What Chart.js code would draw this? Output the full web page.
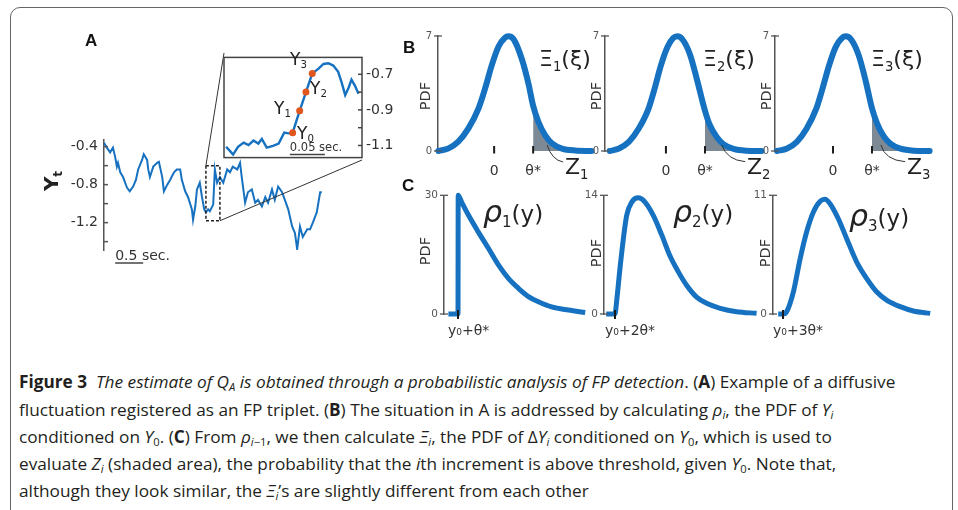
<!DOCTYPE html>
<html>
<head>
<meta charset="utf-8">
<script src="https://cdn.jsdelivr.net/npm/chart.js@4.4.1/dist/chart.umd.min.js"></script>
<style>
body { margin: 0; background: #fff; }
#fig { position: relative; width: 958px; height: 510px; overflow: hidden; font-family: "DejaVu Sans", sans-serif; color: #222; }
canvas { position: absolute; }
#frame { position: absolute; left: 10px; top: 7px; width: 941px; height: 530px; border: 1.3px solid #666; border-radius: 10px; }
.t { position: absolute; line-height: 1; white-space: nowrap; }
.rot { transform: translate(-50%, -50%) rotate(-90deg); }
.lab { font: bold 17px "Liberation Sans", Arial, sans-serif; color: #111; }
.pdf { font-size: 14.5px; color: #333; }
.mth { font-size: 22px; color: #222; }
.rho { font-size: 30px; color: #222; }
.yl { font-size: 17px; color: #222; }
.sb { font-size: 0.6em; position: relative; top: 0.35em; }
.cap { position: absolute; left: 19px; white-space: nowrap; line-height: 1; font-family: "Open Sans", "Noto Sans", sans-serif; font-size: 17px; color: #231f20; transform-origin: 0 0; }
.cs { font-size: 0.65em; position: relative; top: 0.3em; }
</style>
</head>
<body>
<div id="fig">
  <div id="frame"></div>
  <canvas id="cA"></canvas>
  <canvas id="cIn"></canvas>
  <canvas id="cB1"></canvas>
  <canvas id="cB2"></canvas>
  <canvas id="cB3"></canvas>
  <canvas id="cC1"></canvas>
  <canvas id="cC2"></canvas>
  <canvas id="cC3"></canvas>

  <div class="t lab" style="left:85px;top:30.5px">A</div>
  <div class="t lab" style="left:403px;top:37.5px">B</div>
  <div class="t lab" style="left:402px;top:175.5px">C</div>

  <div class="t rot" style="left:51px;top:181px;font:bold 20px 'DejaVu Sans',sans-serif">Y<span class="sb">t</span></div>

  <div class="t yl" style="left:290px;top:50.5px">Y<span class="sb">3</span></div>
  <div class="t yl" style="left:310px;top:79.5px">Y<span class="sb">2</span></div>
  <div class="t yl" style="left:274px;top:99.5px">Y<span class="sb">1</span></div>
  <div class="t yl" style="left:297px;top:124.5px">Y<span class="sb">0</span></div>

  <div class="t rot pdf" style="left:425px;top:96px">PDF</div>
  <div class="t rot pdf" style="left:596px;top:96px">PDF</div>
  <div class="t rot pdf" style="left:766px;top:96px">PDF</div>
  <div class="t rot pdf" style="left:425px;top:251px">PDF</div>
  <div class="t rot pdf" style="left:596px;top:253px">PDF</div>
  <div class="t rot pdf" style="left:765px;top:253px">PDF</div>

  <div class="t mth" style="left:539px;top:48px">Ξ<span class="sb">1</span>(ξ)</div>
  <div class="t mth" style="left:703px;top:48px">Ξ<span class="sb">2</span>(ξ)</div>
  <div class="t mth" style="left:871px;top:48px">Ξ<span class="sb">3</span>(ξ)</div>

  <div class="t mth" style="left:565px;top:156px">Z<span class="sb">1</span></div>
  <div class="t mth" style="left:747px;top:156px">Z<span class="sb">2</span></div>
  <div class="t mth" style="left:907px;top:156px">Z<span class="sb">3</span></div>

  <div class="t rho" style="left:483px;top:197px"><i>ρ</i><span class="sb" style="font-size:15px">1</span><span style="font-size:23px">(y)</span></div>
  <div class="t rho" style="left:673px;top:197px"><i>ρ</i><span class="sb" style="font-size:15px">2</span><span style="font-size:23px">(y)</span></div>
  <div class="t rho" style="left:849px;top:201px"><i>ρ</i><span class="sb" style="font-size:15px">3</span><span style="font-size:23px">(y)</span></div>

  <div class="cap" data-w="930" style="top:373px"><b>Figure 3</b>&nbsp; <i>The estimate of Q<span class="cs">A</span> is obtained through a probabilistic analysis of FP detection</i>. (<b>A</b>) Example of a diffusive</div>
  <div class="cap" data-w="703" style="top:400.5px">fluctuation registered as an FP triplet. (<b>B</b>) The situation in A is addressed by calculating <i>ρ<span class="cs">i</span></i>, the PDF of <i>Y<span class="cs">i</span></i></div>
  <div class="cap" data-w="890" style="top:428px">conditioned on <i>Y</i><span class="cs">0</span>. (<b>C</b>) From <i>ρ</i><span class="cs"><i>i</i>−1</span>, we then calculate <i>Ξ<span class="cs">i</span></i>, the PDF of Δ<i>Y<span class="cs">i</span></i> conditioned on <i>Y</i><span class="cs">0</span>, which is used to</div>
  <div class="cap" data-w="896" style="top:455px">evaluate <i>Z<span class="cs">i</span></i> (shaded area), the probability that the <i>i</i>th increment is above threshold, given <i>Y</i><span class="cs">0</span>. Note that,</div>
  <div class="cap" data-w="472" style="top:482px">although they look similar, the <i>Ξ<span class="cs">i</span></i>’s are slightly different from each other</div>
</div>

<script>
// ---- panel A: diffusive trace (time in s, Y_t) ----
const traceT = [0.00,0.05,0.11,0.16,0.20,0.23,0.25,0.29,0.34,0.41,0.46,0.52,0.57,0.61,0.68,0.71,0.77,0.79,0.82,0.88,
  0.95,0.98,1.04,1.07,1.13,1.18,1.25,1.30,1.36,1.39,1.45,1.50,1.57,1.59,1.63,1.66,1.71,1.75,1.79,1.82,
  1.86,1.89,1.95,1.98,2.02,2.07,2.13,2.20,2.25,2.30,2.38,2.43,2.46,2.52,2.57,2.64,2.70,2.75,2.82,2.88,
  2.93,3.00,3.05,3.11,3.18,3.23,3.29,3.36,3.41,3.45,3.50,3.55,3.63,3.68,3.73,3.80,3.86,3.89];
const traceY = [-0.36,-0.41,-0.46,-0.41,-0.51,-0.61,-0.57,-0.67,-0.72,-0.83,-0.87,-0.82,-0.75,-0.64,-0.54,-0.48,-0.54,-0.64,-0.72,-0.61,
  -0.57,-0.56,-0.72,-0.87,-0.80,-0.75,-0.67,-0.64,-0.64,-0.75,-0.87,-0.93,-1.06,-1.17,-1.03,-0.85,-0.78,-0.93,-1.06,-1.09,
  -1.06,-1.08,-1.01,-0.64,-0.78,-0.72,-0.78,-0.64,-0.67,-0.61,-0.64,-0.57,-0.72,-0.99,-0.88,-0.85,-0.99,-0.96,-1.03,-0.93,
  -0.99,-0.85,-0.96,-0.82,-0.88,-0.96,-1.06,-1.24,-1.31,-1.48,-1.24,-1.35,-1.27,-1.27,-1.20,-1.09,-0.88,-0.88];
const aTickVals = [-0.4,-0.6,-0.8,-1.0,-1.2,-1.4];
const aTickLabels = ['-0.4','','-0.8','','-1.2',''];
const zoomWin = [1.82, 2.07, -0.60, -1.18];   // t0, t1, yTop, yBottom of dashed box
const scaleA = [0.2, 0.7];                     // 0.5 sec bar

// inset (time from window start, s)
const insetT = [0.003,0.009,0.013,0.020,0.028,0.035,0.042,0.049,0.054,0.061,0.070,0.078,0.086,0.092,0.098,
  0.108,0.117,0.126,0.135,0.142,0.149,0.156,0.163,0.168,0.173,0.178,0.182,0.187,0.192];
const insetY = [-1.107,-1.133,-1.151,-1.107,-1.084,-1.098,-1.072,-1.089,-1.063,-1.112,-1.102,-1.089,-1.028,-1.032,-1.028,
  -0.905,-0.800,-0.695,-0.668,-0.642,-0.638,-0.651,-0.686,-0.747,-0.817,-0.774,-0.730,-0.765,-0.809];
const fpIdx = [14, 15, 16, 17];               // Y0..Y3
const inTickVals = [-0.7,-0.8,-0.9,-1.0,-1.1];
const inTickLabels = ['-0.7','','-0.9','','-1.1'];
const scaleIn = [0.094, 0.144];               // 0.05 sec bar

// ---- panel B: increment PDFs Xi_i ----
const bTickVals = [0, 1];
const bTickLabels = ['0', 'θ*'];
const b1X = [-1.43,-1.17,-0.92,-0.66,-0.40,-0.23,-0.06,0.11,0.27,0.37,0.50,0.71,0.88,1.00,1.14,1.31,1.48,1.74,2.08,2.50];
const b1Y = [0.00,0.16,0.57,1.38,2.60,3.82,5.23,6.35,6.88,6.98,6.80,5.60,4.10,2.75,1.75,0.95,0.47,0.15,0.03,0.00];
const b2X = [-1.44,-1.20,-0.95,-0.70,-0.45,-0.29,-0.13,0.04,0.19,0.29,0.42,0.62,0.80,1.00,1.12,1.30,1.47,1.73,2.06,2.45];
const b2Y = [0.00,0.15,0.55,1.35,2.55,3.80,5.20,6.33,6.88,6.98,6.80,5.85,4.30,2.45,1.60,0.85,0.42,0.13,0.02,0.00];
const b3X = [-1.44,-1.18,-0.93,-0.68,-0.43,-0.27,-0.10,0.07,0.23,0.33,0.46,0.66,0.84,1.00,1.13,1.30,1.47,1.73,2.07,2.48];
const b3Y = [0.00,0.15,0.56,1.36,2.58,3.80,5.22,6.34,6.88,6.98,6.80,5.82,4.25,2.60,1.68,0.90,0.45,0.14,0.02,0.00];
const bMax = 7;

// ---- panel C: rho_i(y) ----
const c1X = [-0.24,0.00,0.005,0.09,0.26,0.51,0.76,1.01,1.26,1.51,1.76,2.01,2.34,2.76,3.18];
const c1Y = [0,0,30,28.3,25.0,20.7,16.6,12.4,9.0,6.5,4.4,3.1,1.8,1.0,0.4];
const c2X = [-0.22,0.00,0.04,0.125,0.21,0.29,0.42,0.58,0.75,0.96,1.17,1.37,1.58,1.79,2.04,2.29,2.63,3.04,3.54];
const c2Y = [0,0,1.45,5.4,8.9,11.6,13.2,13.7,13.2,11.6,9.3,6.9,5.0,3.4,2.0,1.26,0.67,0.27,0.08];
const c3X = [-0.12,0.00,0.09,0.26,0.43,0.59,0.76,0.93,1.05,1.18,1.38,1.59,1.84,2.09,2.34,2.59,2.93,3.26,3.68];
const c3Y = [0,0,0.21,2.06,5.15,7.6,9.46,10.45,10.63,10.2,8.85,7.0,4.84,3.3,2.06,1.29,0.68,0.28,0.06];
const cTickLabels = ['y₀+θ*', 'y₀+2θ*', 'y₀+3θ*'];
const cMax = [30, 14, 11];

const BLUE = '#1672c0';
const ORANGE = '#e0561c';
const SHADE = '#7d8a96';
const FONT = 'DejaVu Sans';

const pts = (xs, ys) => xs.map((x, i) => ({x: x, y: ys[i]}));

function place(id, left, top, w, h) {
  const c = document.getElementById(id);
  c.width = w; c.height = h;
  c.style.left = left + 'px'; c.style.top = top + 'px';
  return c;
}

function basePlugins(extra) {
  return Object.assign({legend: {display: false}, tooltip: {enabled: false}}, extra);
}

// y axis with fixed ticks
function yAxis(min, max, vals, labels, w, o) {
  return {
    type: 'linear', min: min, max: max, position: o.position || 'left',
    afterBuildTicks: s => { s.ticks = vals.map(v => ({value: v})); },
    afterFit: s => { s.width = w; },
    grid: {display: false, drawTicks: false},
    border: {display: o.border !== false, color: '#555', width: 1.5},
    ticks: {callback: (v, i) => labels[i], color: o.color || '#555', font: {family: FONT, size: o.size}, padding: o.padding, autoSkip: false}
  };
}

// small tick marks, leader lines
const marks = {
  id: 'marks',
  afterDatasetsDraw(chart, args, o) {
    const {ctx, chartArea: a, scales} = chart;
    ctx.save();
    if (o.y) {
      const y = scales.y;
      ctx.strokeStyle = o.y.color; ctx.lineWidth = o.y.width;
      const ax = o.y.right ? a.right : a.left;
      const d = o.y.right ? -1 : 1;
      y.ticks.forEach(t => {
        const py = y.getPixelForValue(t.value);
        ctx.beginPath(); ctx.moveTo(ax - d * o.y.out, py); ctx.lineTo(ax + d * o.y.inn, py); ctx.stroke();
      });
    }
    if (o.x) {
      const x = scales.x;
      ctx.strokeStyle = o.x.color; ctx.lineWidth = o.x.width;
      x.ticks.forEach(t => {
        const px = x.getPixelForValue(t.value);
        ctx.beginPath(); ctx.moveTo(px, a.bottom - o.x.up); ctx.lineTo(px, a.bottom + o.x.down); ctx.stroke();
      });
    }
    if (o.leader) {
      const x = scales.x, y = scales.y, L = o.leader;
      ctx.strokeStyle = '#333'; ctx.lineWidth = 1;
      ctx.beginPath();
      ctx.moveTo(x.getPixelForValue(L[0]), y.getPixelForValue(L[1]));
      ctx.quadraticCurveTo(x.getPixelForValue(L[2]), y.getPixelForValue(L[3]), x.getPixelForValue(L[4]), y.getPixelForValue(L[5]));
      ctx.stroke();
    }
    ctx.restore();
  }
};

// ---- panel A ----
const A_LEFT = 40, A_TOP = 25;
const INSET = {left: 224, top: 53, right: 362, bottom: 160};

const panelA = {
  id: 'panelA',
  afterDraw(chart) {
    const {ctx, chartArea: a, scales: {x, y}} = chart;
    const x0 = x.getPixelForValue(zoomWin[0]), x1 = x.getPixelForValue(zoomWin[1]);
    const y0 = y.getPixelForValue(zoomWin[2]), y1 = y.getPixelForValue(zoomWin[3]);
    ctx.save();
    ctx.setLineDash([3, 2]); ctx.lineWidth = 1.5; ctx.strokeStyle = '#222';
    ctx.strokeRect(x0, y0, x1 - x0, y1 - y0);
    ctx.setLineDash([]); ctx.lineWidth = 1; ctx.strokeStyle = '#333';
    ctx.beginPath();
    ctx.moveTo(x0, y0); ctx.lineTo(INSET.left - A_LEFT, INSET.top - A_TOP);
    ctx.moveTo(x1, y1); ctx.lineTo(INSET.right - A_LEFT, INSET.bottom - A_TOP);
    ctx.stroke();
    const s0 = x.getPixelForValue(scaleA[0]), s1 = x.getPixelForValue(scaleA[1]);
    ctx.lineWidth = 1.5; ctx.strokeStyle = '#444';
    ctx.beginPath(); ctx.moveTo(s0, a.bottom + 13); ctx.lineTo(s1, a.bottom + 13); ctx.stroke();
    ctx.fillStyle = '#333'; ctx.font = '14px "' + FONT + '"'; ctx.textBaseline = 'alphabetic';
    ctx.fillText('0.5 sec.', s0, a.bottom + 10);
    ctx.restore();
  }
};

new Chart(place('cA', A_LEFT, A_TOP, 340, 255), {
  type: 'line',
  data: {datasets: [{data: pts(traceT, traceY), borderColor: BLUE, borderWidth: 2, tension: 0, pointRadius: 0}]},
  options: {
    responsive: false, animation: false, events: [],
    layout: {padding: {left: 0, top: 115, right: 56.5, bottom: 30}},
    scales: {
      x: {type: 'linear', display: false, min: 0, max: 3.92},
      y: yAxis(-1.488, -0.33, aTickVals, aTickLabels, 64, {size: 14, padding: 6, color: '#333'})
    },
    plugins: basePlugins({marks: {y: {out: 0, inn: 4, color: '#555', width: 1.5}}})
  },
  plugins: [marks, panelA]
});

// ---- inset ----
const insetDeco = {
  id: 'insetDeco',
  afterDraw(chart) {
    const {ctx, chartArea: a, scales: {x}} = chart;
    ctx.save();
    ctx.strokeStyle = '#444'; ctx.lineWidth = 1.5;
    ctx.strokeRect(a.left, a.top, a.right - a.left, a.bottom - a.top);
    const s0 = x.getPixelForValue(scaleIn[0]), s1 = x.getPixelForValue(scaleIn[1]);
    ctx.beginPath(); ctx.moveTo(s0, a.bottom - 3); ctx.lineTo(s1, a.bottom - 3); ctx.stroke();
    ctx.fillStyle = '#333'; ctx.font = '11.5px "' + FONT + '"';
    ctx.fillText('0.05 sec.', s0, a.bottom - 7);
    ctx.restore();
  }
};

new Chart(place('cIn', 215, 45, 185, 125), {
  type: 'line',
  data: {datasets: [
    {data: fpIdx.map(i => ({x: insetT[i], y: insetY[i]})), showLine: false, pointRadius: 3.5, pointBackgroundColor: ORANGE, pointBorderWidth: 0},
    {data: pts(insetT, insetY), borderColor: BLUE, borderWidth: 2.4, tension: 0, pointRadius: 0}
  ]},
  options: {
    responsive: false, animation: false, events: [],
    layout: {padding: {left: 9, top: 8, right: 0, bottom: 10}},
    scales: {
      x: {type: 'linear', display: false, min: 0, max: 0.197},
      y: yAxis(-1.168, -0.605, inTickVals, inTickLabels, 38, {position: 'right', border: false, size: 14, padding: 4, color: '#333'})
    },
    plugins: basePlugins({marks: {y: {right: true, out: 0, inn: 4, color: '#444', width: 1.5}}})
  },
  plugins: [marks, insetDeco]
});

// ---- panel B ----
function bChart(id, left, xs, ys, xmin, xmax, leader) {
  const w = 38 + Math.round((xmax - xmin) * 39) + 8;
  const curve = pts(xs, ys);
  const tail = curve.filter(p => p.x >= bTickVals[1]);
  new Chart(place(id, left, 20, w, 165), {
    type: 'line',
    data: {datasets: [
      {data: curve, borderColor: BLUE, borderWidth: 6, cubicInterpolationMode: 'monotone', pointRadius: 0, clip: false, borderCapStyle: 'round'},
      {data: tail, borderColor: 'rgba(0,0,0,0)', borderWidth: 0, backgroundColor: SHADE, fill: 'origin', cubicInterpolationMode: 'monotone', pointRadius: 0}
    ]},
    options: {
      responsive: false, animation: false, events: [],
      layout: {padding: {left: 0, top: 16, right: 8, bottom: 0}},
      scales: {
        x: {
          type: 'linear', min: xmin, max: xmax,
          afterBuildTicks: s => { s.ticks = bTickVals.map(v => ({value: v})); },
          afterFit: s => { s.height = 34; },
          grid: {display: false, drawTicks: false},
          border: {display: false},
          ticks: {callback: (v, i) => bTickLabels[i], color: '#333', font: {family: FONT, size: 14}, padding: 12, autoSkip: false, maxRotation: 0}
        },
        y: yAxis(0, bMax, [0, bMax], ['0', String(bMax)], 38, {size: 10, padding: 6})
      },
      plugins: basePlugins({marks: {
        y: {out: 4, inn: 4, color: '#555', width: 1.3},
        x: {up: 5, down: 2.5, color: '#1a1a1a', width: 2},
        leader: leader
      }})
    },
    plugins: [marks]
  });
}

bChart('cB1', 400, b1X, b1Y, -1.44, 2.51, [1.36, 0.37, 1.48, -0.55, 1.77, -0.67]);
bChart('cB2', 567, b2X, b2Y, -1.56, 2.46, [1.43, 0.37, 1.56, -0.55, 2.03, -0.65]);
bChart('cB3', 737, b3X, b3Y, -1.49, 2.49, [1.23, 0.37, 1.33, -0.55, 1.85, -0.65]);

// ---- panel C ----
function cChart(id, left, xs, ys, xmin, xmax, k) {
  const w = 38 + Math.round((xmax - xmin) * 40) + 8;
  new Chart(place(id, left, 183, w, 161), {
    type: 'line',
    data: {datasets: [
      {data: pts(xs, ys), borderColor: BLUE, borderWidth: 5, cubicInterpolationMode: 'monotone', pointRadius: 0, clip: false}
    ]},
    options: {
      responsive: false, animation: false, events: [],
      layout: {padding: {left: 0, top: 12, right: 8, bottom: 0}},
      scales: {
        x: {
          type: 'linear', min: xmin, max: xmax,
          afterBuildTicks: s => { s.ticks = [{value: 0}]; },
          afterFit: s => { s.height = 30; },
          grid: {display: false, drawTicks: false},
          border: {display: false},
          ticks: {callback: () => cTickLabels[k], color: '#333', font: {family: FONT, size: 14}, padding: 9, align: 'start', labelOffset: -10, autoSkip: false, maxRotation: 0}
        },
        y: yAxis(0, cMax[k], [0, cMax[k]], ['0', String(cMax[k])], 38, {size: 10.5, padding: 6})
      },
      plugins: basePlugins({marks: {
        y: {out: 4, inn: 4, color: '#555', width: 1.3},
        x: {up: 4, down: 5, color: '#1a1a1a', width: 2}
      }})
    },
    plugins: [marks]
  });
}

cChart('cC1', 406, c1X, c1Y, -0.35, 3.2, 0);
cChart('cC2', 566, c2X, c2Y, -0.275, 3.55, 1);
cChart('cC3', 735, c3X, c3Y, -0.25, 3.675, 2);

// caption: one common horizontal squeeze so the lines span the reference width
function fitCaption() {
  const lines = Array.from(document.querySelectorAll('.cap'));
  let want = 0, have = 0;
  lines.forEach(el => { want += +el.dataset.w; have += el.offsetWidth; });
  const k = want / have;
  lines.forEach(el => { el.style.transform = 'scaleX(' + k + ')'; });
}
fitCaption();
if (document.fonts) document.fonts.ready.then(fitCaption);
</script>
</body>
</html>
